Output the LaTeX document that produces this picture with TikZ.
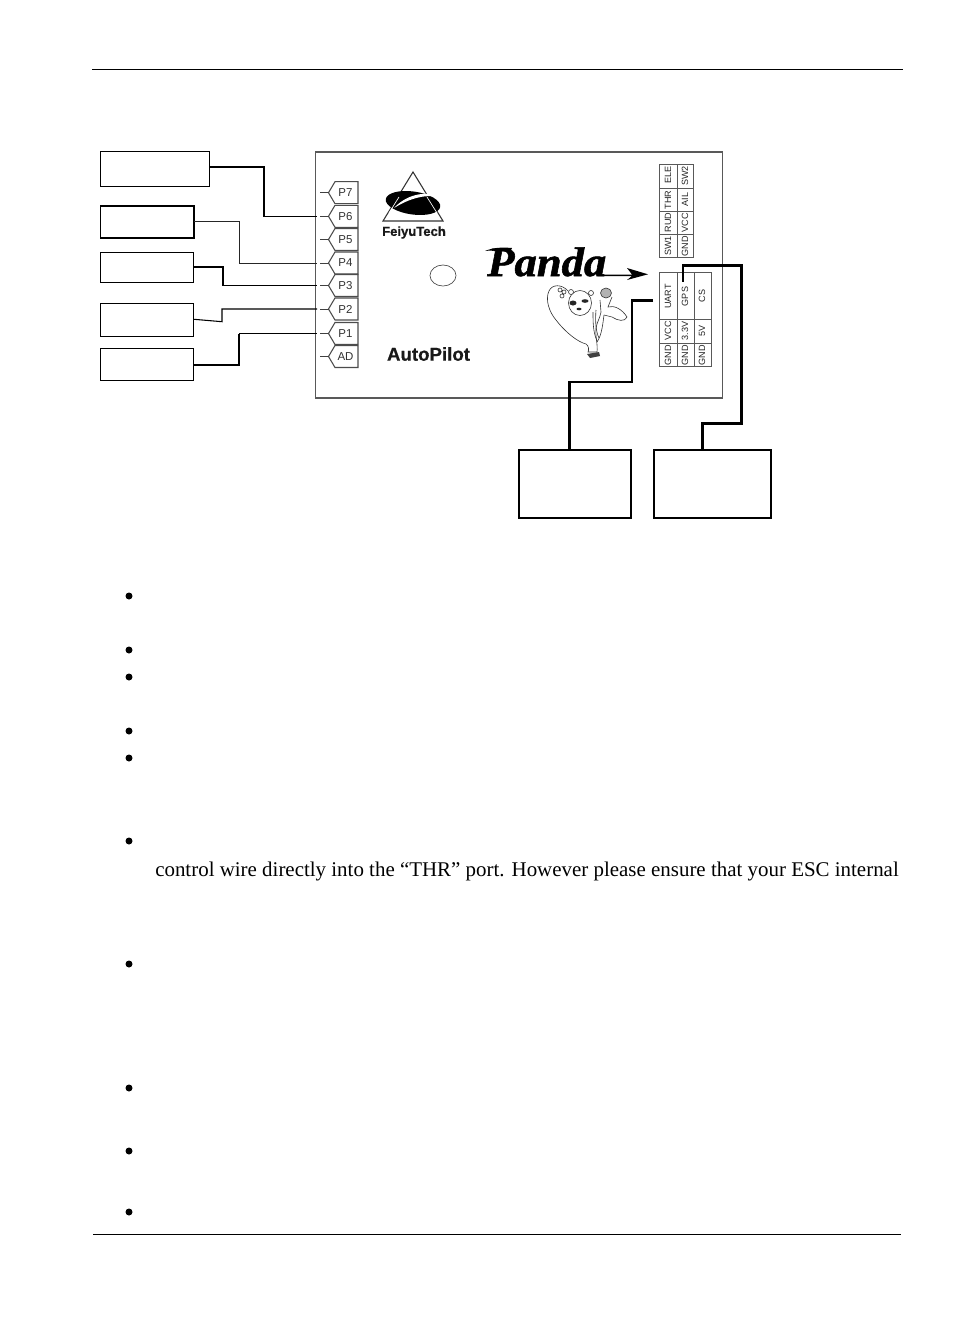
\documentclass[tikz,border=0pt]{standalone}
\usepackage{fontspec}
\setmainfont{Liberation Serif}
\setsansfont{Liberation Sans}
\newfontfamily\logofont[FakeBold=0.6]{Liberation Sans}
\newfontfamily\pandafont[FakeBold=1.4,FakeStretch=1.08]{Liberation Serif}
\tikzset{
  wire/.style={draw=black,line width=0.8pt},
  wirethin/.style={draw=black!85,line width=0.7pt},
  wirethick/.style={draw=black,line width=1.4pt},
  wirefat/.style={draw=black,line width=2.1pt},
  blank/.style={draw=black,fill=white,line width=0.8pt,inner sep=0pt,outer sep=0pt,anchor=north west},
  blankb/.style={blank,line width=1.2pt},
  board/.style={draw=black!65,line width=0.9pt,fill=white,outer sep=0pt},
  rule/.style={draw=black,line width=0.6pt},
  pin/.style={draw=black!70,line width=0.8pt,fill=white},
  pinlab/.style={font=\sffamily\fontsize{8.6}{9}\selectfont,text=black!80,inner sep=0pt},
  rot/.style={font=\sffamily\fontsize{6.8}{8}\selectfont,text=black!85,rotate=90,inner sep=0pt},
  hdr/.style={draw=black!65,line width=0.65pt},
  para/.style={font=\fontsize{15.7}{17}\selectfont,anchor=base west,inner sep=0pt},
  logot/.style={text=black!90,inner sep=0pt},
}
\newcommand{\pport}[3]{%
  \draw[pin] (358,#2-11) -- (335,#2-11) -- (328.5,#2) -- (335,#2+11) -- (358,#2+11) -- cycle;
  \coordinate (#1w) at (317,#2);
  \coordinate (#1s) at (320,#2);
  \coordinate (#1n) at (328.5,#2);
  \draw[draw=black!75,line width=0.7pt] (#1n) -- (#1s);
  \node[pinlab] (#1t) at (345.5,#2) {#3};}
\begin{document}
\begin{tikzpicture}[x=0.75pt,y=-0.75pt]
\useasboundingbox (0,0) rectangle (954,1321);
% page rules
\coordinate (ra) at (92,69.5); \coordinate (rb) at (903,69.5);
\draw[rule] (ra) -- (rb);
\coordinate (rc) at (93,1234); \coordinate (rd) at (901,1234);
\draw[rule] (rc) -- (rd);
% board
\node[board,anchor=north west,minimum width=407*0.75pt,minimum height=246*0.75pt,inner sep=0pt] (brd) at (315.8,152) {};
% ports
\pport{pseven}{192.7}{P7}
\pport{psix}{216.3}{P6}
\pport{pfive}{239.5}{P5}
\pport{pfour}{263}{P4}
\pport{pthree}{285.5}{P3}
\pport{ptwo}{309}{P2}
\pport{pone}{333.5}{P1}
\pport{pad}{356.5}{AD}
% blank boxes
\node[blank,minimum width=109*0.75pt,minimum height=35*0.75pt] (b1) at (100.3,151.5) {};
\node[blankb,minimum width=93.5*0.75pt,minimum height=32*0.75pt] (b2) at (100.3,206.2) {};
\node[blank,minimum width=93.5*0.75pt,minimum height=30*0.75pt] (b3) at (100.3,252.5) {};
\node[blank,minimum width=93.5*0.75pt,minimum height=33*0.75pt] (b4) at (100.3,303.5) {};
\node[blank,minimum width=93.5*0.75pt,minimum height=32*0.75pt] (b5) at (100.3,348.5) {};
\node[blankb,minimum width=112*0.75pt,minimum height=68*0.75pt] (b6) at (518.7,449.7) {};
\node[blankb,minimum width=117*0.75pt,minimum height=68*0.75pt] (b7) at (654,449.7) {};
% connector ends on the boxes
\coordinate (b1w) at (209.5,167);
\coordinate (b2w) at (194,221);
\coordinate (b3w) at (194,267.3);
\coordinate (b4w) at (194,319.3);
\coordinate (b5w) at (194,365);
\coordinate (b6w) at (569.3,449.7);
\coordinate (b7w) at (702.5,449.7);
% connectors
\draw[wire] (b1w) -| (264,216.3) -- (psixw);
\draw[wirethin] (b2w) -| (239.5,263) -- (pfourw);
\draw[wirethick] (b3w) -| (222.7,285.5) -- (pthreew);
\draw[wire] (b4w) -- (222,321.7) -- (222,309) -- (ptwow);
\draw[wirethick] (b5w) -| (239,333.5);
\draw[wire] (239,333.5) -- (ponew);
% logo
\draw[black!80,line width=0.8pt] (383,221) -- (413,172) -- (443,221) -- cycle;
\fill[black,rotate around={-8:(413,203)}] (413,203) ellipse (27.5 and 11.5);
\fill[white] (394,208) .. controls (406,195) and (425,190) .. (440,197) .. controls (426,194) and (410,198) .. (394,208) -- cycle;
\draw[white,line width=0.5pt] (399,197) -- (389,213);
\draw[white,line width=0.5pt] (427,197) -- (437,213);
\node[logot,font=\logofont\bfseries\fontsize{9.8}{11}\selectfont] (ft) at (414,232.5) {FeiyuTech};
\draw[black!70,line width=0.5pt] (443,275.5) ellipse (13 and 10.5);
\node[logot,font=\logofont\bfseries\fontsize{14}{15}\selectfont] (ap) at (428.5,354) {AutoPilot};
% Panda wordmark
\node[inner sep=0pt,anchor=base west,font=\pandafont\bfseries\itshape\fontsize{31}{32}\selectfont] (pan) at (487,276) {Panda};
\fill[black] (485,251) .. controls (492,248) and (500,247) .. (512,248) -- (510,252) .. controls (502,250) and (494,250) .. (485,251) -- cycle;
\fill[black] (598,274.5) -- (632,274.5) -- (627,268) -- (648,274.3) -- (627,280) -- (632,276) -- (598,276) -- cycle;
% panda drawing
\begin{scope}[black!80,line width=0.45pt]
\draw (568,291) .. controls (562,284) and (552,284) .. (549,291) .. controls (545,299) and (549,312) .. (556,320) .. controls (566,333) and (578,342) .. (586,344) .. controls (589,346) and (589,350) .. (588,352) -- (597,352) .. controls (598,345) and (595,335) .. (596,328) .. controls (597,322) and (600,318) .. (601,312) -- (600,300);
\draw (612,297) -- (608,307) .. controls (614,305) and (622,309) .. (627,317) .. controls (625,322) and (618,321) .. (612,317) -- (604,315);
\draw (604,315) .. controls (603,322) and (602,335) .. (597,342);
\draw[fill=white] (580,303) ellipse (11.5 and 12.5);
\draw[fill=white] (571,292) circle (2.5);
\draw[fill=white] (591,293) circle (2.5);
\fill[black!85] (573,303) ellipse (3.5 and 2.5);
\fill[black!85] (585,301) ellipse (3.5 and 1.8);
\fill[black!85] (579,309) ellipse (2.5 and 1.3);
\draw (593,312) .. controls (593,322) and (593,332) .. (597,341);
\draw (596,310) .. controls (595,322) and (596,332) .. (599,338);
\draw[fill=black!30] (606,293) ellipse (5.5 and 5);
\draw (564,292) circle (2) (560,290) circle (2) (562,296) circle (2);
\fill[black!75] (587,354) -- (599,352) -- (600,356) -- (590,358) -- cycle;
\end{scope}
% right headers
\draw[hdr] (659.5,164.3) rectangle (693,257.5);
\draw[hdr] (677,164.3) -- (677,257.5);
\draw[hdr] (659.5,188) -- (693,188);
\draw[hdr] (659.5,211) -- (693,211);
\draw[hdr] (659.5,234.3) -- (693,234.3);
\node[rot] (t1) at (668,175) {ELE};
\node[rot] (t2) at (668,200) {THR};
\node[rot] (t3) at (668,222.5) {RUD};
\node[rot] (t4) at (668,246) {SW1};
\node[rot] (t5) at (685,176) {SW2};
\node[rot] (t6) at (685,199.5) {AIL};
\node[rot] (t7) at (685,222.5) {VCC};
\node[rot] (t8) at (685,246) {GND};
\draw[hdr] (659.5,272.7) rectangle (711,366.5);
\draw[hdr] (677,272.7) -- (677,366.5);
\draw[hdr] (694,272.7) -- (694,366.5);
\draw[hdr] (659.5,319) -- (711,319);
\draw[hdr] (659.5,343.8) -- (711,343.8);
\node[rot] (u1) at (668,296.5) {UART};
\node[rot] (u2) at (685,296.5) {GPS};
\node[rot] (u3) at (702,296) {CS};
\node[rot] (u4) at (668,331) {VCC};
\node[rot] (u5) at (685,331) {3.3V};
\node[rot] (u6) at (702,331) {5V};
\node[rot] (u7) at (668,355) {GND};
\node[rot] (u8) at (685,355) {GND};
\node[rot] (u9) at (702,355) {GND};
% thick wires
\coordinate (ue) at (653,300.3);
\coordinate (ge) at (683,281.7);
\draw[wirefat] (ue) -- (632,300.3) -- (632,382) -- (569.3,382) -- (b6w);
\draw[wirefat] (ge) -- (683,265.7) -- (741.5,265.7) -- (741.5,423.5) -- (702.5,423.5) -- (b7w);
% text
\foreach \y in {596,650,677,731,758,841,964,1088,1151,1212}{\fill[black] (129,\y) circle (3.5);}
\node[para] (line) at (155,876.7) {control wire directly into the “THR” port. However please ensure that your ESC internal};
\end{tikzpicture}
\end{document}
